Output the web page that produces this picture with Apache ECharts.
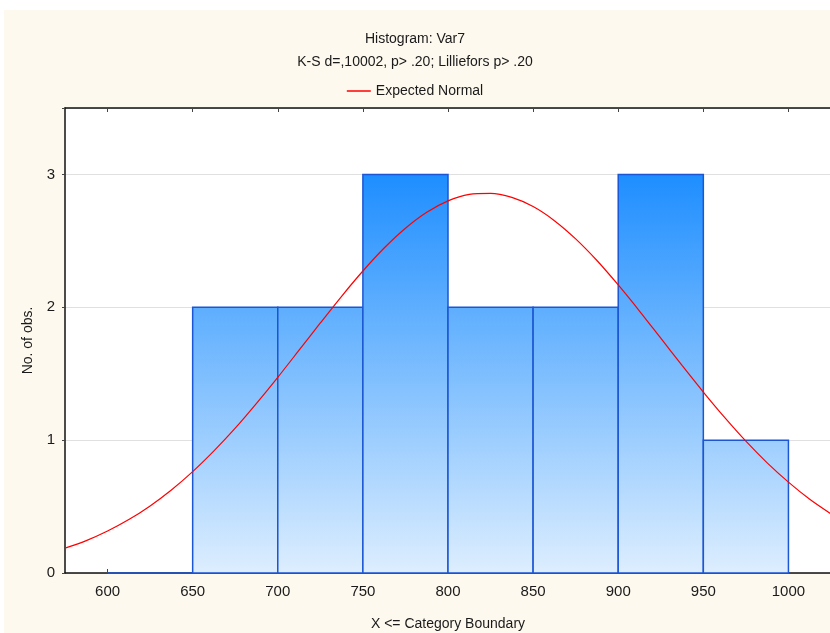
<!DOCTYPE html>
<html>
<head>
<meta charset="utf-8">
<script src="https://cdn.jsdelivr.net/npm/echarts@6/dist/echarts.min.js"></script>
<style>
  html, body { margin: 0; padding: 0; background: #fff; overflow: hidden; }
  #chart { width: 830px; height: 633px; }
</style>
</head>
<body>
<div id="chart"></div>
<script>
  // histogram bins (lower boundary) and counts
  var binStarts = [600, 650, 700, 750, 800, 850, 900, 950]
  var binWidth = 50
  var counts = [0, 2, 2, 3, 2, 2, 3, 1]

  // expected normal curve, every 12.5
  var curveX = [575, 587.5, 600, 612.5, 625, 637.5, 650, 662.5, 675, 687.5, 700, 712.5, 725, 737.5,
    750, 762.5, 775, 787.5, 800, 812.5, 825, 837.5, 850, 862.5, 875, 887.5, 900, 912.5,
    925, 937.5, 950, 962.5, 975, 987.5, 1000, 1012.5, 1025]
  var curveY = [0.187, 0.244, 0.316, 0.402, 0.505, 0.625, 0.763, 0.919, 1.090, 1.277, 1.473, 1.677, 1.882, 2.083,
    2.273, 2.446, 2.595, 2.715, 2.801, 2.850, 2.858, 2.827, 2.758, 2.652, 2.515, 2.352, 2.168, 1.972,
    1.767, 1.562, 1.362, 1.171, 0.992, 0.829, 0.684, 0.555, 0.445]

  var xTicks = [600, 650, 700, 750, 800, 850, 900, 950, 1000]
  var yTicks = [0, 1, 2, 3]

  var chart = echarts.init(document.getElementById('chart'))

  var barData = binStarts.map(function (s, i) {
    return [s, s + binWidth, counts[i]]
  })
  var lineData = curveX.map(function (x, i) {
    return [x, curveY[i]]
  })

  var textColor = '#1a1a1a'
  var font = 'Liberation Sans, Arial, sans-serif'

  // bar fill runs from deep blue at "3" down to pale at "0"
  var barFill = new echarts.graphic.LinearGradient(0, 175, 0, 573, [
    { offset: 0, color: '#1E8EFF' },
    { offset: 1, color: '#DDEEFE' }
  ], true)

  chart.setOption({
    backgroundColor: '#fff',
    animation: false,
    graphic: [{
      type: 'rect',
      z: -10,
      silent: true,
      shape: { x: 4, y: 10, width: 900, height: 700 },
      style: { fill: '#FDF9EE' }
    }, {
      type: 'rect',
      z: -9,
      silent: true,
      shape: { x: 65, y: 108, width: 800, height: 465 },
      style: { fill: '#fff' }
    }],
    title: {
      text: 'Histogram: Var7',
      subtext: 'K-S d=,10002, p> .20; Lilliefors p> .20',
      left: 'center',
      top: 27,
      itemGap: 9,
      textStyle: { fontFamily: font, fontSize: 14, fontWeight: 'normal', color: textColor },
      subtextStyle: { fontFamily: font, fontSize: 14, color: textColor }
    },
    legend: {
      top: 79,
      left: 'center',
      icon: 'rect',
      itemWidth: 24,
      itemHeight: 1.5,
      itemGap: 6,
      textStyle: { fontFamily: font, fontSize: 14, color: textColor },
      data: ['Expected Normal']
    },
    grid: {
      left: 65,
      top: 108,
      width: 766,
      height: 465,
      outerBoundsMode: 'none',
      containLabel: false
    },
    xAxis: [{
      type: 'value',
      min: 575,
      max: 1025,
      name: 'X <= Category Boundary',
      nameLocation: 'middle',
      nameGap: 44,
      nameTextStyle: { fontFamily: font, fontSize: 14, color: textColor },
      axisLine: { show: true, onZero: false, lineStyle: { color: '#111', width: 1.5 } },
      axisTick: { show: true, inside: true, length: 4, customValues: xTicks, lineStyle: { color: '#444' } },
      axisLabel: {
        customValues: xTicks,
        margin: 11,
        fontFamily: font,
        fontSize: 15,
        color: textColor,
        formatter: function (v) { return String(v) }
      },
      splitLine: { show: false }
    }, {
      type: 'value',
      position: 'top',
      min: 575,
      max: 1025,
      axisLine: { show: true, onZero: false, lineStyle: { color: '#111', width: 1.5 } },
      axisTick: { show: true, inside: true, length: 4, customValues: xTicks, lineStyle: { color: '#444' } },
      axisLabel: { show: false },
      splitLine: { show: false }
    }],
    yAxis: {
      type: 'value',
      min: 0,
      max: 3.5,
      interval: 1,
      name: 'No. of obs.',
      nameLocation: 'middle',
      nameGap: 30,
      nameTextStyle: { fontFamily: font, fontSize: 14, color: textColor },
      axisLine: { show: true, onZero: false, lineStyle: { color: '#111', width: 1.5 } },
      axisTick: { show: true, length: 3, lineStyle: { color: '#444' } },
      axisLabel: {
        margin: 10,
        fontFamily: font,
        fontSize: 15,
        color: textColor,
        formatter: function (v) { return yTicks.indexOf(v) >= 0 ? String(v) : '' }
      },
      splitLine: { show: true, lineStyle: { color: '#e0e0e0', width: 1 } }
    },
    series: [{
      name: 'Histogram',
      type: 'custom',
      xAxisIndex: 0,
      data: barData,
      encode: { x: [0, 1], y: 2 },
      renderItem: function (params, api) {
        var p0 = api.coord([api.value(0), api.value(2)])
        var p1 = api.coord([api.value(1), 0])
        return {
          type: 'rect',
          shape: { x: p0[0], y: p0[1], width: p1[0] - p0[0], height: p1[1] - p0[1] },
          style: { fill: barFill, stroke: '#1B56D4', lineWidth: 1.5 }
        }
      },
      z: 2
    }, {
      name: 'Expected Normal',
      type: 'line',
      xAxisIndex: 0,
      data: lineData,
      smooth: 0.3,
      symbol: 'none',
      clip: true,
      lineStyle: { color: '#FF0000', width: 1.2 },
      itemStyle: { color: '#FF0000' },
      z: 3
    }]
  })
</script>
</body>
</html>
